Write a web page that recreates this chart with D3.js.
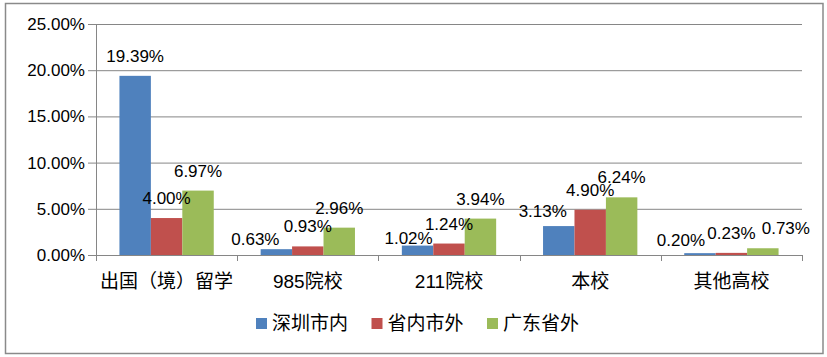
<!DOCTYPE html>
<html><head><meta charset="utf-8">
<script src="https://cdn.jsdelivr.net/npm/d3@7"></script>
<style>body{margin:0;background:#fff}svg{display:block}</style>
</head><body>
<svg id="c" width="827" height="357"></svg>
<script>
const categories = ["出国（境）留学", "985院校", "211院校", "本校", "其他高校"];
const seriesNames = ["深圳市内", "省内市外", "广东省外"];
const shenzhen = [19.39, 0.63, 1.02, 3.13, 0.20];
const shengnei = [4.00, 0.93, 1.24, 4.90, 0.23];
const shengwai = [6.97, 2.96, 3.94, 6.24, 0.73];
const yTicks = [0, 5, 10, 15, 20, 25];
const colors = ["#4F81BD", "#C0504D", "#9BBB59"];
// manual label nudges (dx, dy) per [series][category], as in the original chart
const nudges = [
  [[0,0],[-21,10],[-9,12],[-16,5],[-19,7]],
  [[0,0],[0,0],[0,0],[0,0],[0,0]],
  [[0,0],[0,0],[0,0],[0,0],[23,0]]
];

const values = [shenzhen, shengnei, shengwai];
const svg = d3.select("#c");
const font = "'Liberation Sans','Noto Sans CJK SC',sans-serif";
const L = 96, R = 802, T = 24, B = 255;

svg.append("rect").attr("x",5.5).attr("y",3.5).attr("width",817.5).attr("height",350)
  .attr("fill","#fff").attr("stroke","#8a8a8a").attr("stroke-width",1.5);

const y = d3.scaleLinear().domain([0,25]).range([B,T]);
const x0 = d3.scaleBand().domain(categories).range([L,R]);
const bw = x0.bandwidth();
const x1 = d3.scaleBand().domain(seriesNames).range([bw*0.166, bw*0.834]);

// gridlines + y axis
const yAxis = d3.axisLeft(y).tickValues(yTicks).tickSize(-(R-L)).tickPadding(11)
  .tickFormat(d => d.toFixed(2) + "%");
const ga = svg.append("g").attr("transform",`translate(${L},0)`).call(yAxis);
ga.select(".domain").remove();
ga.selectAll(".tick line").attr("stroke","#868686").attr("x1",-8);
ga.selectAll(".tick text").attr("font-family",font).attr("font-size",17).attr("fill","#000");
svg.append("line").attr("x1",L+0.5).attr("x2",L+0.5).attr("y1",T).attr("y2",B).attr("stroke","#868686");

// bars
values.forEach((vals, si) => {
  svg.append("g").selectAll("rect").data(vals).join("rect")
    .attr("x",(d,i)=>x0(categories[i]) + x1(seriesNames[si]))
    .attr("width",x1.bandwidth())
    .attr("y",d=>y(d)).attr("height",d=>B-y(d))
    .attr("fill",colors[si]);
});

// x axis
const xAxis = d3.axisBottom(x0).tickSize(0).tickPadding(0);
const gx = svg.append("g").attr("transform",`translate(0,${B})`).call(xAxis);
gx.select(".domain").remove();
gx.selectAll(".tick text").attr("font-family",font).attr("font-size",19).attr("fill","#000")
  .attr("dy",null).attr("y",26).attr("dominant-baseline","central");
svg.append("line").attr("x1",L-8).attr("x2",R).attr("y1",B+0.5).attr("y2",B+0.5).attr("stroke","#868686");
const bounds = categories.map(c=>x0(c)).concat([R]);
svg.append("g").selectAll("line").data(bounds).join("line")
  .attr("x1",d=>Math.round(d)+0.5).attr("x2",d=>Math.round(d)+0.5)
  .attr("y1",B).attr("y2",B+6).attr("stroke","#868686");

// data labels
values.forEach((vals, si) => {
  svg.append("g").selectAll("text").data(vals).join("text")
    .attr("x",(d,i)=>x0(categories[i]) + x1(seriesNames[si]) + x1.bandwidth()/2 + nudges[si][i][0])
    .attr("y",(d,i)=>y(d) - 14 + nudges[si][i][1])
    .attr("text-anchor","middle").attr("font-family",font).attr("font-size",17).attr("fill","#000")
    .text(d=>d.toFixed(2)+"%");
});

// legend
const lg = svg.append("g");
seriesNames.forEach((s, i) => {
  const lx = 256 + i*115.5;
  lg.append("rect").attr("x",lx).attr("y",318).attr("width",11).attr("height",11).attr("fill",colors[i]);
  lg.append("text").attr("x",lx+16).attr("y",323.5).attr("dominant-baseline","central")
    .attr("font-family",font).attr("font-size",19).attr("fill","#000").text(s);
});
</script>
</body></html>
